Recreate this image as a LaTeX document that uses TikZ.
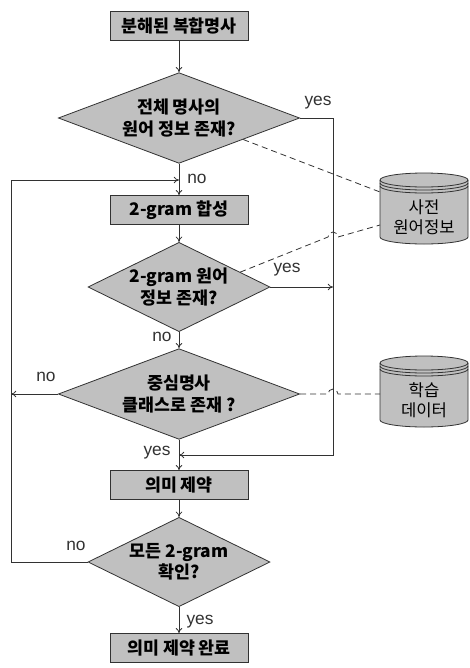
\documentclass[tikz,border=0pt]{standalone}
\usepackage{fontspec}
\setmainfont{Liberation Sans}
\newfontfamily\krfont{Noto Sans CJK KR}
\usetikzlibrary{shapes.geometric,arrows.meta,calc}
\definecolor{boxgray}{RGB}{192,192,192}
\definecolor{linegray}{RGB}{50,50,50}
\tikzset{
  proc/.style={draw=linegray,fill=boxgray,inner sep=0pt,
    minimum width=103.5pt,minimum height=21.5pt,
    font=\krfont\bfseries\fontsize{13}{16}\selectfont},
  dec/.style={diamond,draw=linegray,fill=boxgray,inner sep=0pt},
  dectext/.style={align=center,inner sep=0pt,
    font=\krfont\bfseries\fontsize{13}{16}\selectfont},
  wide/.style={minimum width=181pt,minimum height=68pt},
  narrow/.style={minimum width=136.5pt,minimum height=67pt},
  lbl/.style={font=\fontsize{13}{15}\selectfont,text=linegray},
  arr/.style={draw=linegray,-{To[length=4pt,width=5pt]}},
  link/.style={draw=linegray,dashed,dash pattern=on 4.5pt off 3pt}
}
\begin{document}
\begin{tikzpicture}[x=0.75pt,y=0.75pt,line width=0.6pt]
  \useasboundingbox (0,0) rectangle (470,-668);
  % process steps
  \node[proc] (b1) at (179,-26) {분해된 복합명사};
  \node[dec,wide] (d1) at (179,-118) {};
  \node[dectext] (t1) at (d1) {전체 명사의\\원어 정보 존재?};
  \node[proc] (b2) at (179,-210) {2-gram 합성};
  \node[dec,narrow] (d2) at (179,-287) {};
  \node[dectext] (t2) at (d2) {2-gram 원어\\정보 존재?};
  \node[dec,wide] (d3) at (179,-394) {};
  \node[dectext] (t3) at (d3) {중심명사\\클래스로 존재 ?};
  \node[proc] (b3) at (179,-485) {의미 제약};
  \node[dec,narrow] (d4) at (179,-562) {};
  \node[dectext] (t4) at (d4) {모든 2-gram\\확인?};
  \node[proc] (b4) at (179,-648) {의미 제약 완료};
  % data stores
  \foreach \cy/\nm/\txt in {180/db1/{사전\\원어정보},363/db2/{학습\\데이터}}{
    \fill[boxgray] (380,-\cy) -- (380,-\cy-57) arc[start angle=180,end angle=360,x radius=44,y radius=7]
      -- (468,-\cy) arc[start angle=0,end angle=180,x radius=44,y radius=7];
    \draw[linegray] (380,-\cy) -- (380,-\cy-57) arc[start angle=180,end angle=360,x radius=44,y radius=7]
      -- (468,-\cy);
    \draw[linegray] (424,-\cy) ellipse[x radius=44,y radius=7];
    \foreach \dy in {3,6}{
      \draw[linegray] (380,-\cy-\dy) arc[start angle=180,end angle=360,x radius=44,y radius=7];
    }
    \node[align=center,font=\krfont\fontsize{12.5}{15}\selectfont] (\nm) at (424,-\cy-37) {\txt};
  }
  % coordinates for the side lines
  \coordinate (lx) at (11,-180);
  \coordinate (j1) at (179,-180);
  \coordinate (lx2) at (11,-394);
  \coordinate (rx) at (333,-118);
  \coordinate (j2) at (179,-455);
  \coordinate (rx2) at (333,-287);
  \coordinate (h1) at (380,-192);
  \coordinate (h2) at (380,-225);
  \coordinate (h3) at (380,-394);
  % main flow
  \draw[arr] (b1) -- (d1);
  \draw[arr] (d1) -- (b2);
  \draw[arr] (b2) -- (d2);
  \draw[arr] (d2) -- (d3);
  \draw[arr] (d3) -- (b3);
  \draw[arr] (b3) -- (d4);
  \draw[arr] (d4) -- (b4);
  \draw[arr] (d1.east) -- (rx) |- (j2);
  \draw[arr] (d2.east) -- (rx2);
  \draw[arr] (d3.west) -- (lx2);
  \draw[arr] (d4.west) -| (lx) -- (j1);
  % links to data
  \draw[link] ($(d1.east)!0.47!(d1.south)$) -- (h1);
  \draw[link] ($(d2.north)!0.67!(d2.east)$) -- (328,-237)
    arc[start angle=180,end angle=0,radius=5] -- (h2);
  \draw[link] (d3.east) -- (328,-394)
    arc[start angle=180,end angle=0,radius=5] -- (h3);
  % labels
  \node[lbl] (y1) at (318,-103) {yes};
  \node[lbl] (n1) at (197,-179) {no};
  \node[lbl] (y2) at (287,-270) {yes};
  \node[lbl] (n2) at (162,-337) {no};
  \node[lbl] (n3) at (46,-377) {no};
  \node[lbl] (y3) at (157,-453) {yes};
  \node[lbl] (n4) at (76,-546) {no};
  \node[lbl] (y4) at (200,-622) {yes};
\end{tikzpicture}
\end{document}
